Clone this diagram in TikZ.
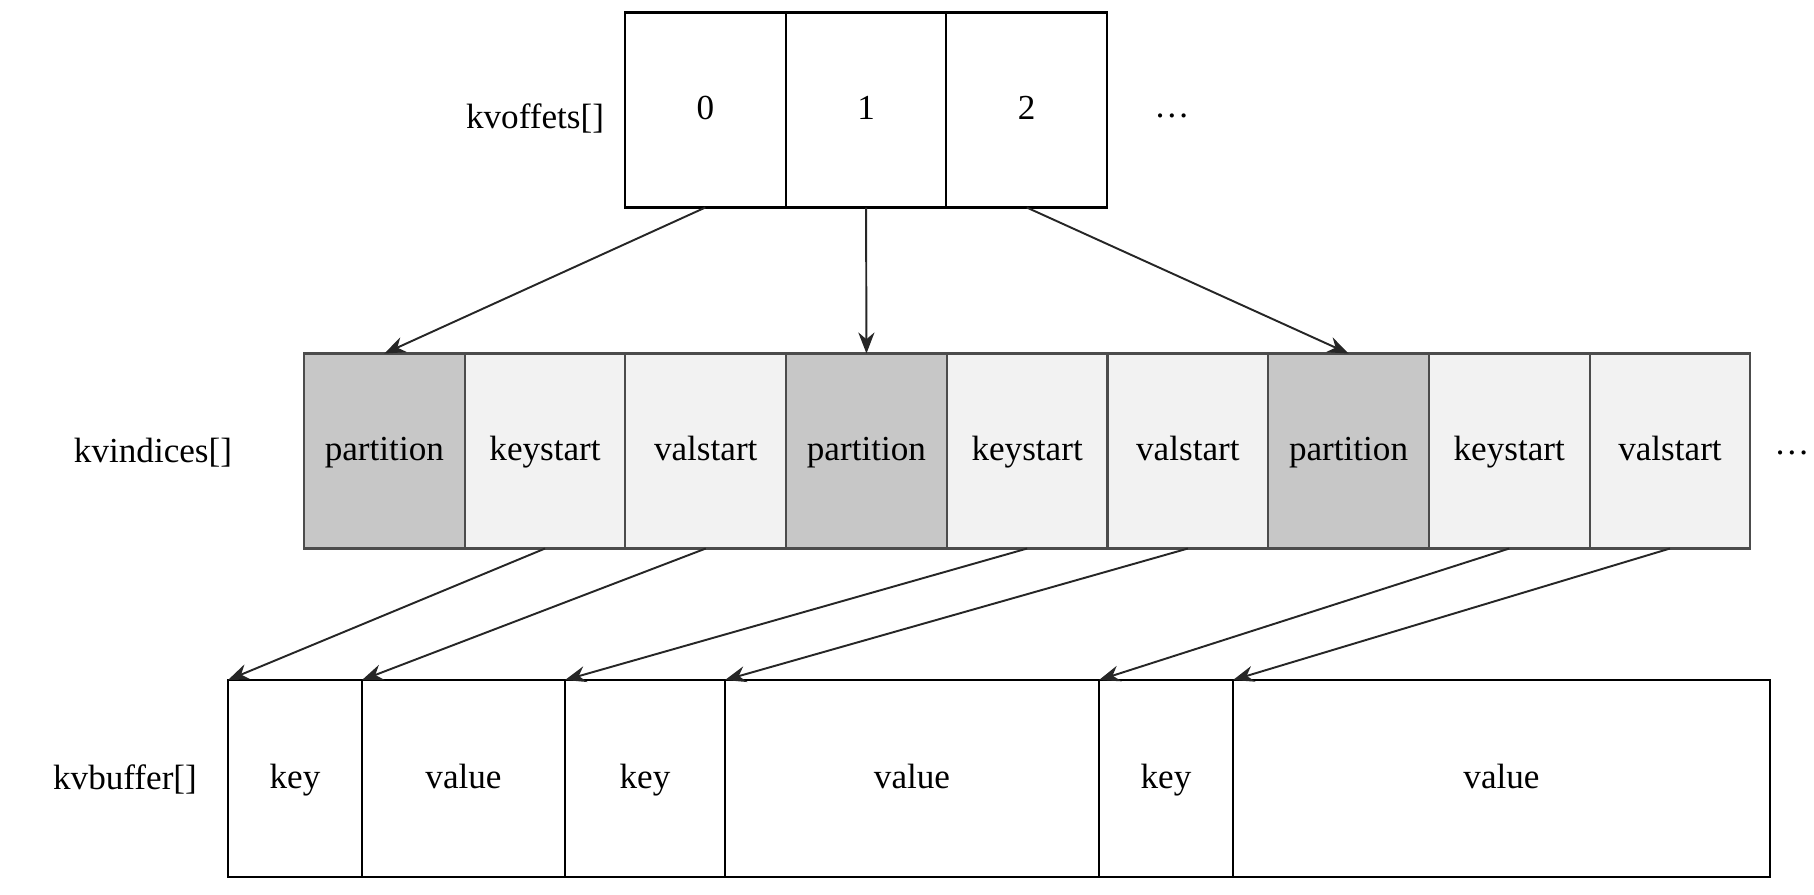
\documentclass[tikz,border=0pt]{standalone}
\usepackage{fontspec}
\setmainfont{Liberation Serif}
\usetikzlibrary{positioning,arrows.meta}

\begin{document}
\begin{tikzpicture}[
				font=\fontsize{10}{12}\selectfont,
				cell/.style={
					rectangle,
					draw=black,
					line width=0.6pt,
					minimum height=1.95cm,
					text height=1.6ex,
					text depth=0.4ex,
					inner sep=0pt,
					outer sep=0pt,
					anchor=west
				},
				offcell/.style={cell, minimum width=1.607cm},
				partcell/.style={cell, draw=black!70, minimum width=1.607cm, fill=black!22},
				idxcell/.style={cell, draw=black!70, minimum width=1.607cm, fill=black!5},
				bufcell/.style={cell, minimum height=1.97cm},
				arrow/.style={
					-{Stealth[length=6pt,width=4.6pt]},
					line width=0.55pt,
					draw=black!85
				}
			]
			\useasboundingbox (0,0) rectangle (18.14,-8.94);
			% kvoffets
			\node[offcell] (off0) at (6.25,-1.10) {0};
			\node[offcell, right=0pt of off0] (off1) {1};
			\node[offcell, right=0pt of off1] (off2) {2};
			\node (offlabel) at (5.35,-1.18) {kvoffets[]};
			\node (offdots) at (11.72,-1.16) {\ldots};
			
			% kvindices
			\node[partcell] (part1) at (3.04,-4.51) {partition};
			\node[idxcell, right=0pt of part1] (kst1) {keystart};
			\node[idxcell, right=0pt of kst1] (vst1) {valstart};
			\node[partcell, right=0pt of vst1] (part2) {partition};
			\node[idxcell, right=0pt of part2] (kst2) {keystart};
			\node[idxcell, right=0pt of kst2] (vst2) {valstart};
			\node[partcell, right=0pt of vst2] (part3) {partition};
			\node[idxcell, right=0pt of part3] (kst3) {keystart};
			\node[idxcell, right=0pt of kst3] (vst3) {valstart};
			\node (idxlabel) at (1.53,-4.53) {kvindices[]};
			\node (idxdots) at (17.92,-4.53) {\ldots};
			
			% kvbuffer
			\node[bufcell, minimum width=1.34cm] (key1) at (2.28,-7.785) {key};
			\node[bufcell, minimum width=2.03cm, right=0pt of key1] (val1) {value};
			\node[bufcell, minimum width=1.60cm, right=0pt of val1] (key2) {key};
			\node[bufcell, minimum width=3.74cm, right=0pt of key2] (val2) {value};
			\node[bufcell, minimum width=1.34cm, right=0pt of val2] (key3) {key};
			\node[bufcell, minimum width=5.37cm, right=0pt of key3] (val3) {value};
			\node (buflabel) at (1.25,-7.79) {kvbuffer[]};
			
			% offsets -> partitions
			\draw[arrow] (off0.south) -- (part1.north);
			\draw[arrow] (off1.south) -- (part2.north);
			\draw[arrow] (off2.south) -- (part3.north);
			
			% indices -> buffer
			\draw[arrow] (kst1.south) -- (key1.north west);
			\draw[arrow] (vst1.south) -- (val1.north west);
			\draw[arrow] (kst2.south) -- (key2.north west);
			\draw[arrow] (vst2.south) -- (val2.north west);
			\draw[arrow] (kst3.south) -- (key3.north west);
			\draw[arrow] (vst3.south) -- (val3.north west);
		\end{tikzpicture}
\end{document}
